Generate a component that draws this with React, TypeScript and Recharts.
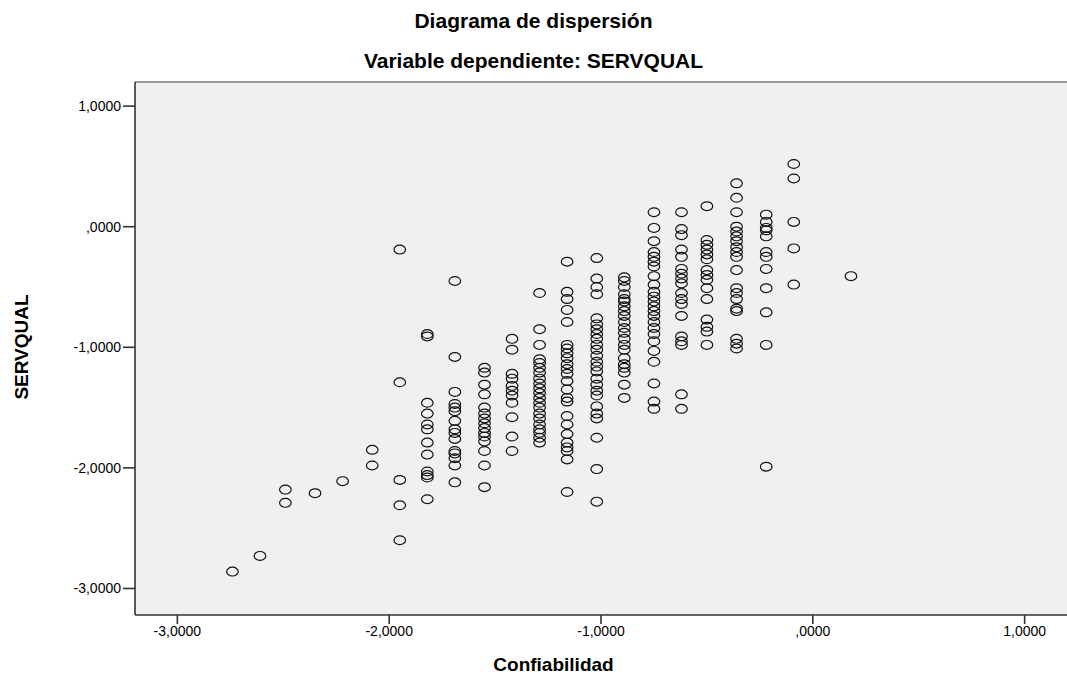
import React from "react";
import { ScatterChart, Scatter, XAxis, YAxis, CartesianGrid, ReferenceLine } from "recharts";

// Confiabilidad levels (x) and the SERVQUAL values observed at each level (y)
const confiabilidadLevels: number[] = [
  -2.74, -2.61, -2.49, -2.35, -2.22, -2.08, -1.95, -1.82, -1.69, -1.55, -1.42,
  -1.29, -1.16, -1.02, -0.89, -0.75, -0.62, -0.5, -0.36, -0.22, -0.09, 0.18,
];

const servqualByLevel: number[][] = [
  [-2.86],
  [-2.73],
  [-2.18, -2.29],
  [-2.21],
  [-2.11],
  [-1.85, -1.98],
  [-0.19, -1.29, -2.1, -2.31, -2.6],
  [-0.89, -0.91, -1.46, -1.55, -1.64, -1.68, -1.79, -1.89, -2.03, -2.06, -2.08, -2.26],
  [-0.45, -1.08, -1.37, -1.47, -1.5, -1.53, -1.61, -1.68, -1.71, -1.76, -1.86, -1.88, -1.92, -1.98, -2.12],
  [-1.17, -1.21, -1.31, -1.39, -1.5, -1.55, -1.59, -1.63, -1.67, -1.71, -1.74, -1.78, -1.86, -1.98, -2.16],
  [-0.93, -1.02, -1.22, -1.26, -1.32, -1.36, -1.4, -1.46, -1.58, -1.74, -1.86],
  [-0.55, -0.85, -0.98, -1.1, -1.13, -1.17, -1.21, -1.26, -1.3, -1.34, -1.38, -1.42, -1.46, -1.5, -1.55, -1.59, -1.64, -1.68, -1.71, -1.75, -1.79],
  [-0.29, -0.54, -0.6, -0.69, -0.79, -0.98, -1.01, -1.05, -1.09, -1.14, -1.18, -1.22, -1.28, -1.35, -1.42, -1.45, -1.57, -1.64, -1.72, -1.79, -1.83, -1.86, -1.93, -2.2],
  [-0.26, -0.43, -0.5, -0.56, -0.76, -0.81, -0.85, -0.89, -0.93, -0.98, -1.02, -1.07, -1.12, -1.16, -1.2, -1.26, -1.31, -1.36, -1.4, -1.49, -1.55, -1.59, -1.75, -2.01, -2.28],
  [-0.42, -0.45, -0.5, -0.56, -0.6, -0.62, -0.66, -0.7, -0.74, -0.79, -0.84, -0.88, -0.93, -0.98, -1.02, -1.09, -1.14, -1.17, -1.21, -1.31, -1.42],
  [0.12, -0.01, -0.12, -0.21, -0.25, -0.29, -0.33, -0.41, -0.48, -0.54, -0.58, -0.62, -0.66, -0.7, -0.74, -0.79, -0.84, -0.89, -0.95, -1.03, -1.12, -1.3, -1.45, -1.51],
  [0.12, -0.02, -0.07, -0.19, -0.25, -0.35, -0.39, -0.43, -0.47, -0.55, -0.6, -0.64, -0.74, -0.91, -0.95, -0.98, -1.39, -1.51],
  [0.17, -0.11, -0.15, -0.19, -0.23, -0.27, -0.36, -0.4, -0.44, -0.51, -0.6, -0.77, -0.83, -0.87, -0.98],
  [0.36, 0.24, 0.12, 0.0, -0.04, -0.08, -0.12, -0.17, -0.21, -0.25, -0.36, -0.51, -0.55, -0.6, -0.68, -0.7, -0.93, -0.97, -1.01],
  [0.1, 0.04, -0.01, -0.03, -0.08, -0.21, -0.25, -0.35, -0.51, -0.71, -0.98, -1.99],
  [0.52, 0.4, 0.04, -0.18, -0.48],
  [-0.41],
];

const xTicks: number[] = [-3, -2, -1, 0, 1];
const yTicks: number[] = [1, 0, -1, -2, -3];

const chartTitle = "Diagrama de dispersión";
const chartSubtitle = "Variable dependiente: SERVQUAL";
const xLabel = "Confiabilidad";
const yLabel = "SERVQUAL";

const points = confiabilidadLevels.flatMap((x, i) =>
  servqualByLevel[i].map((y) => ({ x, y }))
);

const fmt = (v: number) => {
  const s = Math.abs(v).toFixed(4).replace(".", ",");
  const body = s.startsWith("0,") ? s.slice(1) : s;
  return (v < 0 ? "-" : "") + body;
};

const FONT = "'Liberation Sans', Arial, sans-serif";

const Ring = (props: any) => {
  const { cx, cy } = props;
  if (cx == null || cy == null) return null;
  return (
    <ellipse cx={cx} cy={cy} rx={5.8} ry={4.4} fill="none" stroke="#111" strokeWidth={1.2} />
  );
};

const titleStyle: React.CSSProperties = {
  position: "absolute",
  left: 0,
  width: 1067,
  textAlign: "center",
  fontWeight: "bold",
  fontSize: 21,
  color: "#000",
  whiteSpace: "nowrap",
};

export default function App() {
  return (
    <div style={{ position: "absolute", left: 0, top: 0, width: 1067, height: 679, background: "#fff", fontFamily: FONT }}>
      <div style={{ ...titleStyle, top: 9 }}>{chartTitle}</div>
      <div style={{ ...titleStyle, top: 49 }}>{chartSubtitle}</div>
      <ScatterChart width={1067} height={679} margin={{ top: 82, right: 0, bottom: 0, left: 0 }}>
        <CartesianGrid horizontal={false} vertical={false} fill="#f0f0f0" />
        <ReferenceLine y={1.2} stroke="#777" strokeWidth={1.5} />
        <XAxis
          type="number"
          dataKey="x"
          domain={[-3.2, 1.2]}
          ticks={xTicks}
          tickFormatter={fmt}
          allowDataOverflow
          height={64}
          tickSize={9}
          axisLine={{ stroke: "#333", strokeWidth: 1.6 }}
          tickLine={{ stroke: "#333", strokeWidth: 1.6 }}
          tick={{ fill: "#000", fontSize: 14, fontFamily: FONT }}
        />
        <YAxis
          type="number"
          dataKey="y"
          domain={[-3.22, 1.2]}
          ticks={yTicks}
          tickFormatter={fmt}
          allowDataOverflow
          width={135}
          tickSize={12}
          axisLine={{ stroke: "#333", strokeWidth: 1.6 }}
          tickLine={{ stroke: "#333", strokeWidth: 1.6 }}
          tick={{ fill: "#000", fontSize: 14, fontFamily: FONT }}
        />
        <Scatter data={points} shape={<Ring />} isAnimationActive={false} />
      </ScatterChart>
      <div style={{ ...titleStyle, left: 20, top: 654, fontSize: 19 }}>{xLabel}</div>
      <div style={{ position: "absolute", left: 22, top: 347, width: 0, height: 0 }}>
        <div style={{ position: "absolute", transform: "translate(-50%, -50%) rotate(-90deg)", fontWeight: "bold", fontSize: 19, whiteSpace: "nowrap", color: "#000" }}>
          {yLabel}
        </div>
      </div>
    </div>
  );
}
